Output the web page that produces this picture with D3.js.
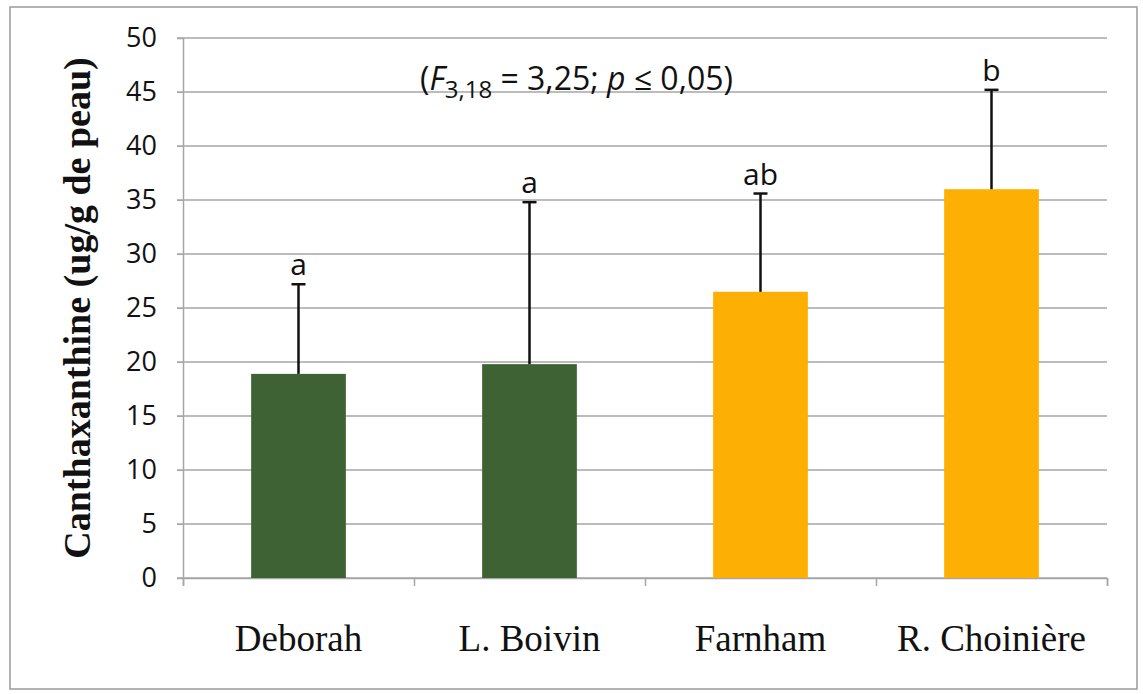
<!DOCTYPE html>
<html>
<head>
<meta charset="utf-8">
<script src="https://cdn.jsdelivr.net/npm/d3@7"></script>
<style>
  body { margin: 0; background: #fff; }
  svg text { fill: #111; }
</style>
</head>
<body>
<div id="chart"></div>
<script>
// data
const sites = ['Deborah', 'L. Boivin', 'Farnham', 'R. Choinière'];
const means = [18.9, 19.8, 26.5, 36.0];
const errors = [8.3, 15.0, 9.1, 9.2];
const letters = ['a', 'a', 'ab', 'b'];
const barColors = ['#3e6233', '#3e6233', '#fdb003', '#fdb003'];
const yTicks = [0, 5, 10, 15, 20, 25, 30, 35, 40, 45, 50];

const width = 1143, height = 694;
const margin = {top: 38, right: 36, bottom: 116, left: 183};

const svg = d3.select('#chart')
  .append('svg')
    .attr('width', width)
    .attr('height', height);

// outer frame
svg.append('rect')
  .attr('x', 10).attr('y', 7)
  .attr('width', 1127).attr('height', 682)
  .attr('fill', 'none')
  .attr('stroke', '#9a9a9a')
  .attr('stroke-width', 1.5);

const contentWidth = width - margin.left - margin.right;
const contentHeight = height - margin.top - margin.bottom;

const g = svg.append('g')
  .attr('transform', `translate(${margin.left},${margin.top})`);

const x = d3.scaleBand()
  .domain(sites)
  .range([0, contentWidth])
  .paddingInner(0.59)
  .paddingOuter(0.295);

const xTicks = d3.scaleLinear().domain([0, sites.length]).range([0, contentWidth]);

const y = d3.scaleLinear()
  .domain([0, 50])
  .range([contentHeight, 0]);

// gridlines
g.append('g')
  .selectAll('line')
  .data(yTicks)
  .join('line')
    .attr('x1', -6)
    .attr('x2', contentWidth)
    .attr('y1', d => y(d))
    .attr('y2', d => y(d))
    .attr('stroke', '#a6a6a6')
    .attr('stroke-width', 1.5);

// y axis
const yAxis = g.append('g')
  .call(d3.axisLeft(y).tickValues(yTicks).tickSize(6).tickPadding(20));
yAxis.select('.domain').attr('stroke', '#a6a6a6').attr('stroke-width', 1.5);
yAxis.selectAll('.tick line').attr('stroke', '#a6a6a6');
yAxis.selectAll('.tick text')
  .attr('font-family', '"Open Sans", "Liberation Sans", sans-serif')
  .attr('font-size', 27)
  .attr('fill', '#111');

// x axis with category boundary ticks
const xAxis = g.append('g')
  .attr('transform', `translate(0,${contentHeight})`)
  .call(d3.axisBottom(xTicks).ticks(4).tickSize(8).tickFormat(''));
xAxis.select('.domain').attr('stroke', '#a6a6a6').attr('stroke-width', 1.5);
xAxis.selectAll('.tick line').attr('stroke', '#a6a6a6').attr('stroke-width', 1.5);

g.append('g')
  .selectAll('text')
  .data(sites)
  .join('text')
    .attr('x', d => x(d) + x.bandwidth() / 2)
    .attr('y', contentHeight + 73)
    .attr('text-anchor', 'middle')
    .attr('font-family', '"Liberation Serif", "Times New Roman", serif')
    .attr('font-size', 37)
    .text(d => d);

// bars
g.append('g')
  .selectAll('rect')
  .data(sites)
  .join('rect')
    .attr('x', d => x(d))
    .attr('y', (d, i) => y(means[i]))
    .attr('width', x.bandwidth())
    .attr('height', (d, i) => contentHeight - y(means[i]))
    .attr('fill', (d, i) => barColors[i]);

// error bars (upper only)
const err = g.append('g')
  .attr('stroke', '#111')
  .attr('stroke-width', 2.5);
err.selectAll('line.v')
  .data(sites)
  .join('line')
    .attr('class', 'v')
    .attr('x1', d => x(d) + x.bandwidth() / 2)
    .attr('x2', d => x(d) + x.bandwidth() / 2)
    .attr('y1', (d, i) => y(means[i]))
    .attr('y2', (d, i) => y(means[i] + errors[i]));
err.selectAll('line.cap')
  .data(sites)
  .join('line')
    .attr('class', 'cap')
    .attr('x1', d => x(d) + x.bandwidth() / 2 - 7)
    .attr('x2', d => x(d) + x.bandwidth() / 2 + 7)
    .attr('y1', (d, i) => y(means[i] + errors[i]))
    .attr('y2', (d, i) => y(means[i] + errors[i]));

// significance letters
g.append('g')
  .selectAll('text')
  .data(sites)
  .join('text')
    .attr('x', d => x(d) + x.bandwidth() / 2)
    .attr('y', (d, i) => y(means[i] + errors[i]) - 9)
    .attr('text-anchor', 'middle')
    .attr('font-family', '"Open Sans", "Liberation Sans", sans-serif')
    .attr('font-size', 30)
    .text((d, i) => letters[i]);

// ANOVA annotation
const note = svg.append('text')
  .attr('x', 420)
  .attr('y', 90)
  .attr('font-family', '"Open Sans", "Liberation Sans", sans-serif')
  .attr('font-size', 32);
note.append('tspan').text('(');
note.append('tspan').attr('font-style', 'italic').text('F');
note.append('tspan').attr('font-size', 24).attr('dy', 8).text('3,18');
note.append('tspan').attr('dy', -8).text(' = 3,25; ');
note.append('tspan').attr('font-style', 'italic').text('p');
note.append('tspan').text(' ≤ 0,05)');

// y axis title
svg.append('text')
  .attr('transform', `translate(90,${margin.top + contentHeight / 2}) rotate(-90)`)
  .attr('text-anchor', 'middle')
  .attr('font-family', '"Liberation Serif", "Times New Roman", serif')
  .attr('font-weight', 'bold')
  .attr('font-size', 38)
  .text('Canthaxanthine (ug/g de peau)');
</script>
</body>
</html>
